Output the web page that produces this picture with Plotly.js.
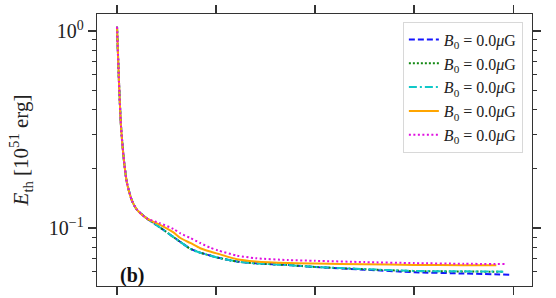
<!DOCTYPE html>
<html>
<head>
<meta charset="utf-8">
<script src="https://cdn.plot.ly/plotly-3.0.1.min.js"></script>
<style>html,body{margin:0;padding:0;background:#fff;}#chart{width:556px;height:298px;}</style>
</head>
<body>
<div id="chart"></div>
<script>
// Common early-time x grid (arbitrary time units; ticks at 0..4, unlabeled)
const xEarly = [0, 0.02, 0.04, 0.07, 0.1, 0.15, 0.2, 0.3];
const yEarly = [1.05, 0.55, 0.33, 0.22, 0.17, 0.138, 0.124, 0.112];

const xLate = [0.43, 0.57, 0.64, 0.74, 0.84, 0.94, 1.02, 1.21, 1.4, 1.73, 2.0, 2.5, 3.0, 3.5];

const blueLate    = [0.101, 0.090, 0.085, 0.0785, 0.075, 0.0725, 0.0707, 0.0677, 0.0662, 0.0649, 0.0634, 0.0615, 0.0597, 0.0588];
const greenLate   = [0.101, 0.090, 0.085, 0.0785, 0.075, 0.0725, 0.0707, 0.0677, 0.0662, 0.0649, 0.0635, 0.0618, 0.0605, 0.0602];
const cyanLate    = [0.101, 0.090, 0.085, 0.0785, 0.075, 0.0725, 0.0707, 0.0677, 0.0662, 0.0649, 0.0635, 0.0619, 0.0606, 0.0603];
const orangeLate  = [0.104, 0.095, 0.089, 0.084, 0.079, 0.076, 0.074, 0.0695, 0.0677, 0.0664, 0.066, 0.0655, 0.065, 0.0648];
const magentaLate = [0.106, 0.099, 0.094, 0.089, 0.084, 0.0795, 0.077, 0.0725, 0.0703, 0.0688, 0.0682, 0.0672, 0.0664, 0.0659];

const endX = {blue: 3.96, green: 3.9, cyan: 3.9, orange: 3.83, magenta: 3.94};
const endY = {blue: 0.0580, green: 0.0600, cyan: 0.0601, orange: 0.0647, magenta: 0.0656};

const labels = ["<i>B</i><sub>0</sub> = 0.0<i>μ</i>G", "<i>B</i><sub>0</sub> = 0.0<i>μ</i>G", "<i>B</i><sub>0</sub> = 0.0<i>μ</i>G", "<i>B</i><sub>0</sub> = 0.0<i>μ</i>G", "<i>B</i><sub>0</sub> = 0.0<i>μ</i>G"];

const yTickVals = [0.1, 1];
const yTickText = ["10<sup>−1</sup>", "10<sup>0</sup>"];
const xTickVals = [0, 1, 2, 3, 4];

const series = [
  {key: 'blue', late: blueLate, color: '#1515ff', dash: '6px,3px'},
  {key: 'green', late: greenLate, color: '#118811', dash: '2px,2px'},
  {key: 'cyan', late: cyanLate, color: '#10c8c8', dash: '8px,3px,2px,3px'},
  {key: 'orange', late: orangeLate, color: '#ffa500', dash: 'solid'},
  {key: 'magenta', late: magentaLate, color: '#e010e0', dash: '2px,2.5px'}
];

const traces = series.map((s, i) => ({
  x: xEarly.concat(xLate, [endX[s.key]]),
  y: yEarly.concat(s.late, [endY[s.key]]),
  type: 'scatter', mode: 'lines', name: labels[i],
  line: {color: s.color, dash: s.dash, width: 2, shape: 'spline', smoothing: 0.6}
}));

const axisColor = '#333';
const layout = {
  width: 556, height: 298,
  margin: {l: 97, r: 24, t: 14, b: 12},
  paper_bgcolor: '#fff', plot_bgcolor: '#fff',
  showlegend: true,
  legend: {
    x: 0.979, y: 0.972, xanchor: 'right', yanchor: 'top',
    bgcolor: 'rgba(255,255,255,0.9)', bordercolor: '#d8d8d8', borderwidth: 1,
    font: {family: 'Liberation Serif, serif', size: 16, color: '#222'},
    itemwidth: 30, tracegroupgap: 0
  },
  xaxis: {
    range: [-0.202, 4.19], tickvals: xTickVals, showticklabels: false,
    ticks: 'outside', ticklen: 8, tickwidth: 1.3, tickcolor: axisColor,
    showline: true, linecolor: axisColor, linewidth: 1.3, mirror: 'ticks',
    showgrid: false, zeroline: false
  },
  yaxis: {
    type: 'log', range: [-1.294, 0.086],
    tickmode: 'array', tickvals: yTickVals, ticktext: yTickText,
    ticks: 'outside', ticklen: 8, tickwidth: 1.3, tickcolor: axisColor,
    minor: {tickmode: 'linear', dtick: 'D1', ticks: 'outside', ticklen: 4, tickwidth: 1, tickcolor: axisColor},
    showline: true, linecolor: axisColor, linewidth: 1.3, mirror: 'ticks',
    showgrid: false, zeroline: false,
    tickfont: {family: 'Liberation Serif, serif', size: 20, color: '#222'},
    title: {text: '<i>E</i><sub>th</sub> [10<sup>51</sup> erg]', font: {family: 'Liberation Serif, serif', size: 21, color: '#222'}, standoff: 14}
  },
  annotations: [{
    text: '<b>(b)</b>', xref: 'paper', yref: 'paper', x: 0.08, y: 0.04,
    xanchor: 'center', yanchor: 'middle', showarrow: false,
    font: {family: 'Liberation Serif, serif', size: 20, color: '#111'}
  }]
};

Plotly.newPlot('chart', traces, layout, {displayModeBar: false, staticPlot: true});
</script>
</body>
</html>
